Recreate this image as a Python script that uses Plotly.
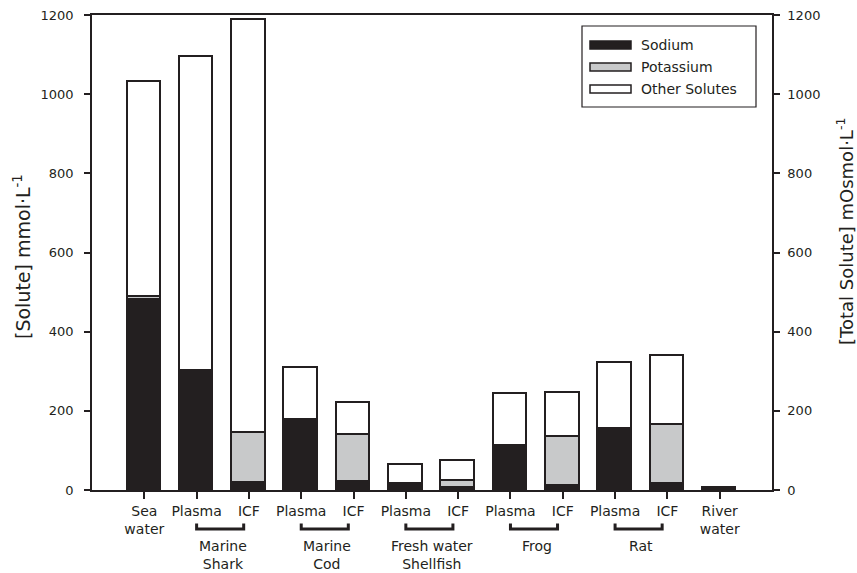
import plotly.graph_objects as go

categories = ["Sea water", "Shark Plasma", "Shark ICF", "Cod Plasma", "Cod ICF",
              "Shellfish Plasma", "Shellfish ICF", "Frog Plasma", "Frog ICF",
              "Rat Plasma", "Rat ICF", "River water"]
tick_labels = ["Sea<br>water", "Plasma", "ICF", "Plasma", "ICF", "Plasma", "ICF",
               "Plasma", "ICF", "Plasma", "ICF", "River<br>water"]
sodium = [480, 297, 17, 172, 19, 13, 4, 110, 9, 150, 15, 1]
potassium = [8, 4, 128, 5, 119, 1, 20, 2, 124, 5, 150, 0.3]
total = [1032, 1095, 1188, 307, 221, 64, 74, 243, 246, 322, 339, 4]
other = [t - n - k for t, n, k in zip(total, sodium, potassium)]

groups = [("Marine<br>Shark", 1), ("Marine<br>Cod", 3), ("Fresh water<br>Shellfish", 5),
          ("Frog", 7), ("Rat", 9)]
y_ticks = [0, 200, 400, 600, 800, 1000, 1200]

INK = "#231f20"
GREY = "#c8c9ca"
FONT = "DejaVu Sans"
xs = list(range(len(categories)))

fig = go.Figure()
for name, vals, col in [("Sodium", sodium, INK), ("Potassium", potassium, GREY),
                        ("Other Solutes", other, "white")]:
    fig.add_trace(go.Bar(x=xs, y=vals, name=name, width=0.64,
                         marker=dict(color=col, line=dict(color=INK, width=1.6)),
                         showlegend=False))

# plot area geometry (pixels)
L, R, T, B = 92, 772, 15, 490
W, H = 857, 573
def px(x):
    return (x - L) / (R - L)
def py(y):
    return (B - y) / (B - T)

shapes = []
annotations = []
# brackets under group labels
for label, i in groups:
    shapes.append(dict(type="path", xref="x", yref="paper",
                       path=f"M {i},{py(523.5)} L {i},{py(529)} L {i+0.9},{py(529)} L {i+0.9},{py(523.5)}",
                       line=dict(color=INK, width=3)))
    annotations.append(dict(x=i + 0.5, y=py(536), xref="x", yref="paper", text=label,
                            showarrow=False, xanchor="center", yanchor="top",
                            font=dict(family=FONT, size=14, color=INK)))

# legend drawn manually
shapes.append(dict(type="rect", xref="paper", yref="paper", x0=px(582), x1=px(756),
                   y0=py(107), y1=py(26), line=dict(color=INK, width=1.2), fillcolor="white"))
for j, (name, col) in enumerate([("Sodium", INK), ("Potassium", GREY), ("Other Solutes", "white")]):
    yc = 45 + j * 22
    shapes.append(dict(type="rect", xref="paper", yref="paper", x0=px(590), x1=px(631),
                       y0=py(yc + 4), y1=py(yc - 4), line=dict(color=INK, width=1.5), fillcolor=col))
    annotations.append(dict(x=px(639), y=py(yc), xref="paper", yref="paper", text=name,
                            showarrow=False, xanchor="left", yanchor="middle",
                            font=dict(family=FONT, size=14, color=INK)))

# axis titles
annotations.append(dict(x=px(22), y=py(257), xref="paper", yref="paper",
                        text="[Solute] mmol·L<sup>-1</sup>", textangle=-90, showarrow=False,
                        xanchor="center", yanchor="middle",
                        font=dict(family=FONT, size=19, color=INK)))
annotations.append(dict(x=px(845), y=py(232), xref="paper", yref="paper",
                        text="[Total Solute] mOsmol·L<sup>-1</sup>", textangle=-90, showarrow=False,
                        xanchor="center", yanchor="middle",
                        font=dict(family=FONT, size=18, color=INK)))

axis_common = dict(ticks="outside", tickcolor=INK, tickwidth=1.5, showline=True,
                   linecolor=INK, showgrid=False, zeroline=False, automargin=False)
fig.update_layout(
    template="none",
    width=W, height=H, barmode="stack", bargap=0,
    paper_bgcolor="white", plot_bgcolor="white",
    margin=dict(l=L, r=W - R, t=T, b=H - B, autoexpand=False),
    font=dict(family=FONT, size=14, color=INK),
    xaxis=dict(range=[-1, 12], tickvals=xs, ticktext=tick_labels, ticklen=7,
               linewidth=2, mirror=True, tickfont=dict(family=FONT, size=14, color=INK),
               **axis_common),
    yaxis=dict(range=[0, 1200], tickvals=y_ticks, ticklen=6, linewidth=1.5,
               ticklabelstandoff=8,
               tickfont=dict(family=FONT, size=13, color=INK), **axis_common),
    yaxis2=dict(range=[0, 1200], tickvals=y_ticks, ticklen=6, linewidth=1.5,
                overlaying="y", side="right", anchor="x", ticklabelstandoff=5,
                tickfont=dict(family=FONT, size=13, color=INK), **axis_common),
    shapes=shapes, annotations=annotations, showlegend=False,
)
fig.add_trace(go.Scatter(x=[None], y=[None], yaxis="y2", showlegend=False, hoverinfo="skip"))

fig.write_html("out.html", config={"displayModeBar": False},
               post_script="document.body.style.margin='0';document.body.style.overflow='hidden';")
